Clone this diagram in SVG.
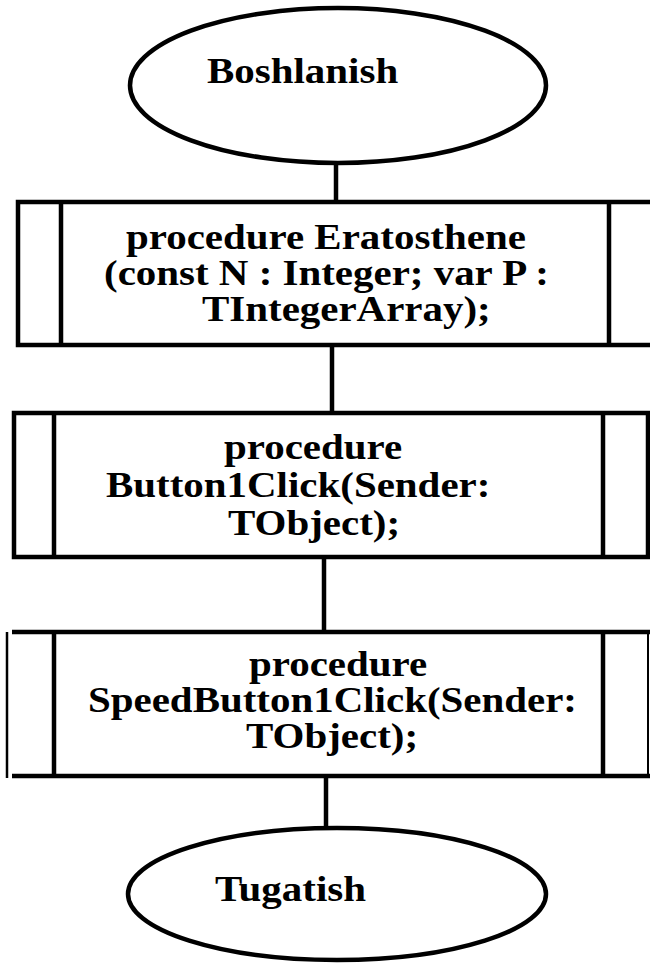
<svg xmlns="http://www.w3.org/2000/svg" width="650" height="964" viewBox="0 0 650 964">
  <style>
    .shape { fill: #ffffff; stroke: #000000; stroke-width: 4.5; }
    .bar { stroke: #000000; stroke-width: 4.5; fill: none; }
    .wire { stroke: #000000; stroke-width: 4.5; fill: none; }
    .lbl { font-family: "Liberation Serif", "Times New Roman", serif; font-weight: bold; font-size: 35px; fill: #000000; }
  </style>
  <rect x="0" y="0" width="650" height="964" fill="#ffffff"/>

  <!-- connectors between the blocks -->
  <g id="connectors">
    <line class="wire" x1="336" y1="162" x2="336" y2="202"/>
    <line class="wire" x1="332" y1="345" x2="332" y2="413"/>
    <line class="wire" x1="324" y1="557" x2="324" y2="632"/>
    <line class="wire" x1="326" y1="776" x2="326" y2="829"/>
  </g>

  <!-- start terminal -->
  <g id="start">
    <ellipse class="shape" cx="338" cy="85.5" rx="208" ry="77.5"/>
    <text class="lbl" transform="translate(207,83) scale(1.17,1)">Boshlanish</text>
  </g>

  <!-- predefined process: Eratosthene -->
  <g id="eratosthene">
    <rect class="shape" x="18" y="202" width="640" height="143"/>
    <line class="bar" x1="61" y1="202" x2="61" y2="345"/>
    <line class="bar" x1="609" y1="202" x2="609" y2="345"/>
    <text class="lbl" transform="translate(126,249) scale(1.17,1)">procedure Eratosthene</text>
    <text class="lbl" transform="translate(104,285) scale(1.17,1)">(const N : Integer; var P :</text>
    <text class="lbl" transform="translate(202,321) scale(1.17,1)">TIntegerArray);</text>
  </g>

  <!-- predefined process: Button1Click -->
  <g id="button1click">
    <rect class="shape" x="14" y="413" width="634" height="144"/>
    <line class="bar" x1="54" y1="413" x2="54" y2="557"/>
    <line class="bar" x1="603" y1="413" x2="603" y2="557"/>
    <text class="lbl" transform="translate(224,459) scale(1.17,1)">procedure</text>
    <text class="lbl" transform="translate(106,497) scale(1.17,1)">Button1Click(Sender:</text>
    <text class="lbl" transform="translate(228,535) scale(1.17,1)">TObject);</text>
  </g>

  <!-- predefined process: SpeedButton1Click -->
  <g id="speedbutton1click">
    <rect x="12" y="632" width="638" height="144" fill="#ffffff"/>
    <line class="bar" x1="12" y1="632" x2="650" y2="632"/>
    <line class="bar" x1="12" y1="776" x2="650" y2="776"/>
    <line x1="7" y1="632" x2="7" y2="778" stroke="#000000" stroke-width="2.5"/>
    <line class="bar" x1="54" y1="632" x2="54" y2="776"/>
    <line class="bar" x1="603" y1="632" x2="603" y2="776"/>
    <line x1="648" y1="632" x2="648" y2="776" stroke="#000000" stroke-width="2"/>
    <text class="lbl" transform="translate(249,676) scale(1.17,1)">procedure</text>
    <text class="lbl" transform="translate(88,712) scale(1.17,1)">SpeedButton1Click(Sender:</text>
    <text class="lbl" transform="translate(246,748) scale(1.17,1)">TObject);</text>
  </g>

  <!-- end terminal -->
  <g id="end">
    <ellipse class="shape" cx="337" cy="894" rx="209" ry="66"/>
    <text class="lbl" transform="translate(215,901) scale(1.17,1)">Tugatish</text>
  </g>
</svg>
